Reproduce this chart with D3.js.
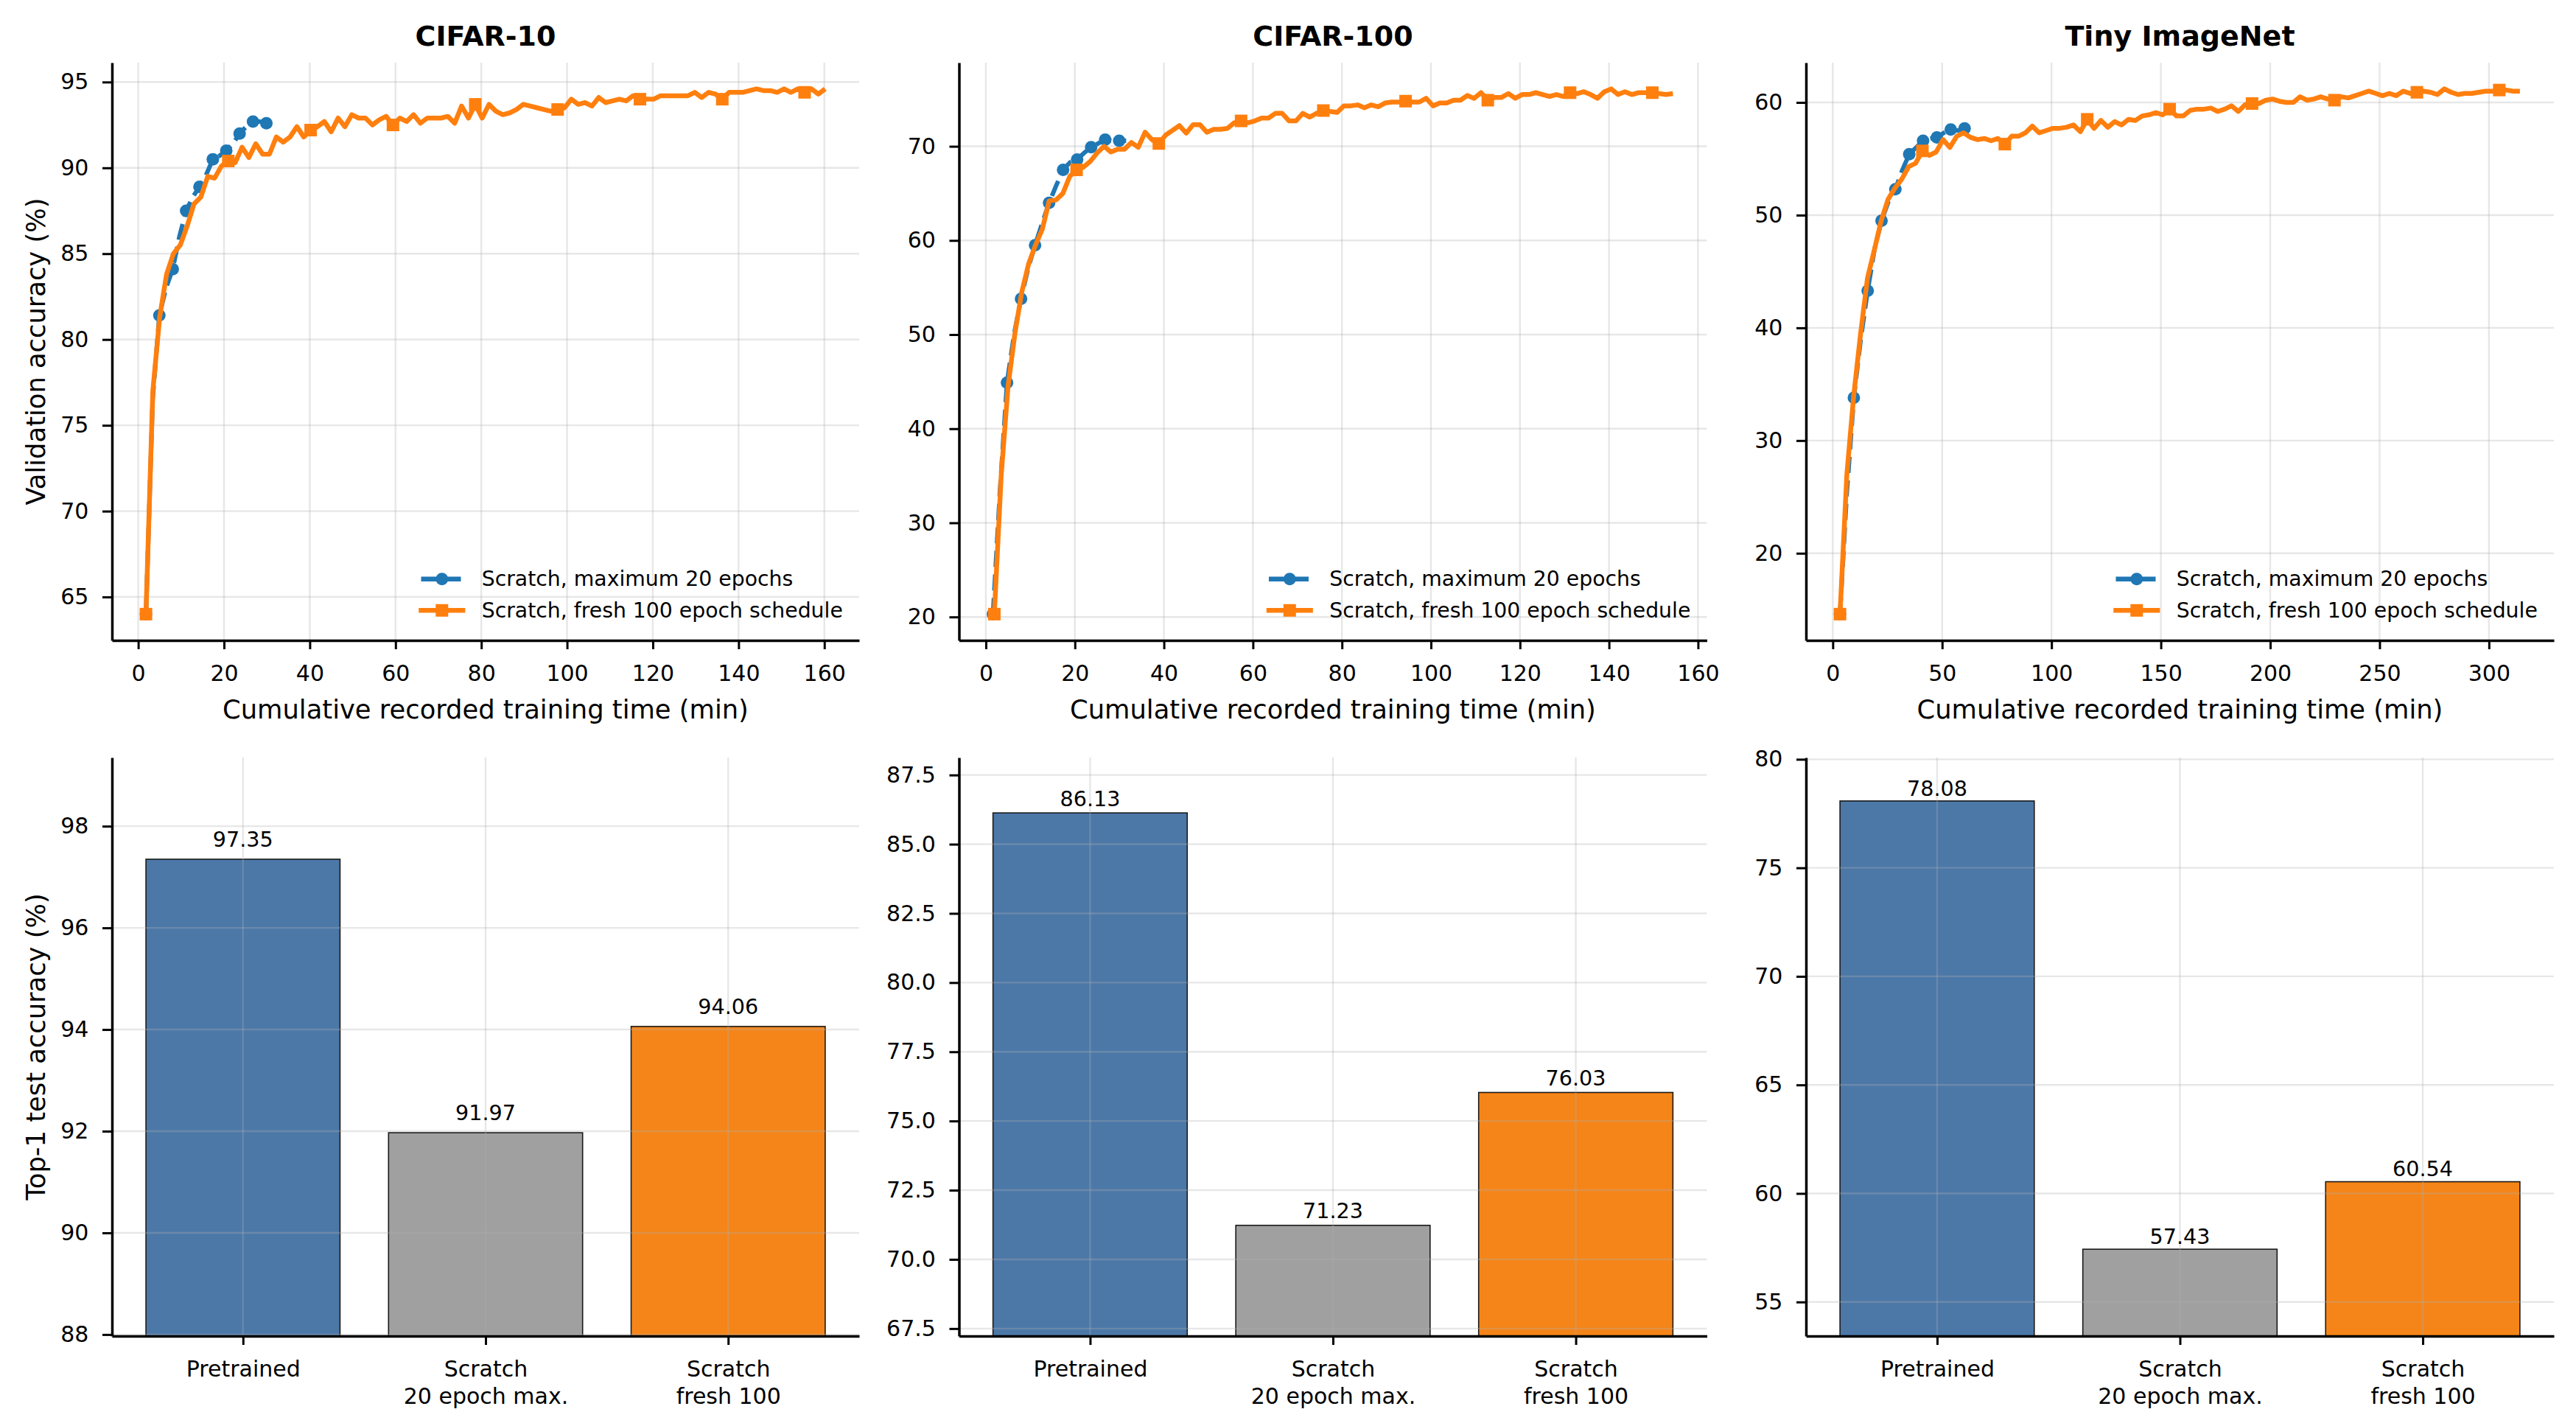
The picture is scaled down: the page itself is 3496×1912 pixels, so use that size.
<!DOCTYPE html>
<html>
<head>
<meta charset="utf-8">
<script src="https://cdn.jsdelivr.net/npm/d3@7"></script>
<style>
  body { margin: 0; background: #fff; }
  svg { display: block; font-family: "DejaVu Sans", sans-serif; }
</style>
</head>
<body>
<svg id="chart" width="3496" height="1912"></svg>
<script>
// values
const datasets = ["CIFAR-10", "CIFAR-100", "Tiny ImageNet"];
const seriesNames = ["Scratch, maximum 20 epochs", "Scratch, fresh 100 epoch schedule"];
const barCategories = ["Pretrained", "Scratch\n20 epoch max.", "Scratch\nfresh 100"];

// validation accuracy (%) per epoch
const c10Scratch20 = [64.0, 76.5, 81.4, 83.0, 84.1, 86.0, 87.5, 88.3, 88.9, 89.6,
  90.5, 90.7, 91.0, 91.4, 92.0, 92.4, 92.7, 92.7, 92.6, 92.6];
const c10Fresh100 = [64.0, 77.0, 81.3, 83.8, 85.0, 85.5, 86.6, 87.9, 88.3, 89.5,
  89.4, 90.1, 90.4, 90.3, 91.2, 90.6, 91.4, 90.8, 90.8, 91.8,
  91.5, 91.8, 92.4, 91.8, 92.2, 92.4, 92.7, 92.1, 92.9, 92.4,
  93.1, 92.9, 92.9, 92.5, 92.8, 93.0, 92.5, 92.9, 92.7, 93.1,
  92.6, 92.9, 92.9, 92.9, 93.0, 92.6, 93.6, 92.9, 93.7, 92.9,
  93.7, 93.3, 93.1, 93.2, 93.4, 93.7, 93.6, 93.5, 93.4, 93.3,
  93.4, 93.5, 94.0, 93.7, 93.8, 93.6, 94.1, 93.8, 93.9, 94.0,
  93.9, 94.2, 94.0, 94.0, 94.0, 94.2, 94.2, 94.2, 94.2, 94.2,
  94.4, 94.1, 94.4, 94.3, 94.0, 94.4, 94.4, 94.4, 94.5, 94.6,
  94.5, 94.5, 94.4, 94.6, 94.4, 94.6, 94.4, 94.6, 94.3, 94.6];

const c100Scratch20 = [20.3, 33.5, 44.9, 50.0, 53.8, 57.0, 59.5, 61.8, 64.0, 65.8,
  67.5, 68.3, 68.6, 69.3, 69.9, 70.3, 70.7, 70.6, 70.6, 70.6];
const c100Fresh100 = [20.3, 35.0, 44.5, 50.1, 54.5, 57.5, 59.5, 61.2, 64.2, 64.3,
  65.0, 66.8, 67.5, 67.8, 68.4, 69.3, 70.0, 69.4, 69.7, 69.7,
  70.4, 69.9, 71.5, 70.7, 70.3, 71.2, 71.7, 72.2, 71.4, 72.3,
  72.3, 71.5, 71.8, 71.8, 71.9, 72.5, 72.7, 72.5, 72.7, 73.0,
  73.0, 73.5, 73.5, 72.7, 72.7, 73.5, 73.1, 73.5, 73.8, 73.7,
  73.6, 74.3, 74.3, 74.4, 74.1, 74.4, 74.2, 74.6, 74.7, 74.7,
  74.8, 74.7, 74.7, 75.1, 74.3, 74.6, 74.6, 74.9, 74.9, 75.4,
  75.1, 75.7, 74.9, 75.2, 75.2, 75.6, 75.1, 75.5, 75.5, 75.7,
  75.5, 75.3, 75.5, 75.3, 75.7, 75.6, 75.8, 75.5, 75.1, 75.8,
  76.1, 75.5, 75.8, 75.5, 75.7, 75.7, 75.7, 75.6, 75.5, 75.6];

const tinyScratch20 = [14.6, 25.5, 33.8, 39.0, 43.3, 47.0, 49.5, 51.2, 52.3, 54.0,
  55.4, 56.0, 56.6, 56.8, 56.9, 57.3, 57.6, 57.5, 57.7, 57.7];
const tinyFresh100 = [14.6, 27.0, 34.0, 39.5, 44.4, 46.9, 49.5, 51.4, 52.4, 53.2,
  54.3, 54.6, 55.7, 55.3, 55.6, 56.7, 56.0, 57.0, 57.3, 56.9,
  56.7, 56.8, 56.6, 56.8, 56.3, 57.0, 57.0, 57.3, 57.9, 57.3,
  57.5, 57.7, 57.7, 57.8, 58.0, 57.4, 58.5, 57.7, 58.4, 57.8,
  58.3, 58.0, 58.5, 58.4, 58.8, 58.9, 59.1, 58.9, 59.4, 58.8,
  58.8, 59.3, 59.4, 59.4, 59.5, 59.2, 59.4, 59.7, 59.2, 59.8,
  59.9, 59.9, 60.2, 60.3, 60.1, 60.0, 60.0, 60.5, 60.2, 60.3,
  60.5, 60.3, 60.2, 60.5, 60.4, 60.6, 60.8, 61.0, 60.8, 60.6,
  60.8, 60.6, 61.0, 60.8, 60.9, 61.0, 60.9, 60.7, 61.2, 60.9,
  60.7, 60.8, 60.8, 60.9, 61.0, 61.0, 61.1, 61.1, 61.0, 61.0];

// recorded time: [end of first epoch, minutes per epoch] for [scratch20, fresh100]
const c10Start = [1.8, 1.8], c10Step = [1.56, 1.6];
const c100Start = [1.6, 1.9], c100Step = [1.575, 1.54];
const tinyStart = [3.3, 3.3], tinyStep = [3.165, 3.14];

// top-1 test accuracy (%)
const c10Test = [97.35, 91.97, 94.06];
const c100Test = [86.13, 71.23, 76.03];
const tinyTest = [78.08, 57.43, 60.54];

// tick labels
const c10XTicks = [0, 20, 40, 60, 80, 100, 120, 140, 160];
const c10YTicks = [65, 70, 75, 80, 85, 90, 95];
const c100XTicks = [0, 20, 40, 60, 80, 100, 120, 140, 160];
const c100YTicks = [20, 30, 40, 50, 60, 70];
const tinyXTicks = [0, 50, 100, 150, 200, 250, 300];
const tinyYTicks = [20, 30, 40, 50, 60];
const c10BarTicks = [88, 90, 92, 94, 96, 98];
const c100BarTicks = [67.5, 70, 72.5, 75, 77.5, 80, 82.5, 85, 87.5];
const tinyBarTicks = [55, 60, 65, 70, 75, 80];

const lineColors = ["#1f77b4", "#ff7f0e"];
const barColors = ["#4c78a8", "#a0a0a0", "#f58518"];

const panelX = [[152, 1166], [1301.5, 2316.5], [2451, 3466]];
var lineTop = 85, lineBottom = 869;
var barTop = 1028, barBottom = 1813;

const lineRuns = [
  [c10Scratch20, c10Fresh100, c10Start, c10Step, c10XTicks, c10YTicks],
  [c100Scratch20, c100Fresh100, c100Start, c100Step, c100XTicks, c100YTicks],
  [tinyScratch20, tinyFresh100, tinyStart, tinyStep, tinyXTicks, tinyYTicks]
];
const barRuns = [
  [c10Test, c10BarTicks, d3.format("d")],
  [c100Test, c100BarTicks, d3.format(".1f")],
  [tinyTest, tinyBarTicks, d3.format("d")]
];

const svg = d3.select("#chart");

function styleAxis(g) {
  g.attr("font-family", null).attr("font-size", null);
  g.select(".domain").attr("stroke", "#000").attr("stroke-width", 3.5);
  g.selectAll(".tick line").attr("stroke", "#000").attr("stroke-width", 3);
  g.selectAll(".tick text").attr("fill", "#000").style("font-size", "30px");
}

function drawGrid(g, x, y, xt, yt, left, right, top, bottom) {
  g.selectAll("line.vg").data(xt).join("line").attr("class", "vg")
    .attr("x1", d => x(d)).attr("x2", d => x(d)).attr("y1", top).attr("y2", bottom);
  g.selectAll("line.hg").data(yt).join("line").attr("class", "hg")
    .attr("x1", left).attr("x2", right).attr("y1", d => y(d)).attr("y2", d => y(d));
  g.selectAll("line").attr("stroke", "#b0b0b0").attr("stroke-opacity", 0.3).attr("stroke-width", 2.4);
}

function padded(lo, hi) {
  const r = hi - lo;
  return [lo - 0.05 * r, hi + 0.05 * r];
}

function drawLegend(g, right, bottom) {
  const rows = [bottom - 83.3, bottom - 40.7];
  rows.forEach((ry, k) => {
    g.append("line")
      .attr("x1", right - 594.5).attr("x2", right - 537.9).attr("y1", ry).attr("y2", ry)
      .attr("stroke", lineColors[k]).attr("stroke-width", 6.5)
      .attr("stroke-linecap", k == 0 ? "butt" : "square")
      .attr("stroke-dasharray", k == 0 ? "22,10" : null);
    if (k == 0) {
      g.append("circle").attr("cx", right - 566.2).attr("cy", ry).attr("r", 8.5).attr("fill", lineColors[0]);
    } else {
      g.append("rect").attr("x", right - 566.2 - 8.5).attr("y", ry - 8.5)
        .attr("width", 17).attr("height", 17).attr("fill", lineColors[1]);
    }
    g.append("text").attr("x", right - 512.3).attr("y", ry + 9.7)
      .style("font-size", "28.3px").attr("fill", "#000").text(seriesNames[k]);
  });
}

datasets.forEach((name, p) => {
  const [left, right] = panelX[p];
  const [s20, f100, start, step, xTicks, yTicks] = lineRuns[p];

  const pts20 = s20.map((v, i) => ({t: start[0] + i * step[0], v: v}));
  const pts100 = f100.map((v, i) => ({t: start[1] + i * step[1], v: v}));
  const all = pts20.concat(pts100);

  const x = d3.scaleLinear().domain(padded(d3.min(all, d => d.t), d3.max(all, d => d.t))).range([left, right]);
  const y = d3.scaleLinear().domain(padded(d3.min(all, d => d.v), d3.max(all, d => d.v))).range([lineBottom, lineTop]);

  const g = svg.append("g");
  drawGrid(g.append("g"), x, y, xTicks, yTicks, left, right, lineTop, lineBottom);

  const line = d3.line().x(d => x(d.t)).y(d => y(d.v));

  g.append("path").datum(pts20).attr("d", line).attr("fill", "none")
    .attr("stroke", lineColors[0]).attr("stroke-width", 6).attr("stroke-dasharray", "22,10");
  g.selectAll("circle.m20").data(pts20.filter((d, i) => i % 2 == 0)).join("circle")
    .attr("class", "m20").attr("cx", d => x(d.t)).attr("cy", d => y(d.v)).attr("r", 8.5)
    .attr("fill", lineColors[0]);

  g.append("path").datum(pts100).attr("d", line).attr("fill", "none")
    .attr("stroke", lineColors[1]).attr("stroke-width", 6.5).attr("stroke-linejoin", "round");
  g.selectAll("rect.m100").data(pts100.filter((d, i) => i % 12 == 0)).join("rect")
    .attr("class", "m100").attr("x", d => x(d.t) - 8.5).attr("y", d => y(d.v) - 8.5)
    .attr("width", 17).attr("height", 17).attr("fill", lineColors[1]);

  g.append("g").attr("transform", "translate(0," + lineBottom + ")")
    .call(d3.axisBottom(x).tickValues(xTicks).tickFormat(d3.format("d")).tickSize(12).tickSizeOuter(0).tickPadding(21.7))
    .call(styleAxis);
  g.append("g").attr("transform", "translate(" + left + ",0)")
    .call(d3.axisLeft(y).tickValues(yTicks).tickFormat(d3.format("d")).tickSize(13).tickSizeOuter(0).tickPadding(18.6))
    .call(styleAxis);

  drawLegend(g.append("g"), right, lineBottom);

  g.append("text").attr("x", (left + right) / 2).attr("y", 61.5).attr("text-anchor", "middle")
    .style("font-size", "38px").style("font-weight", "bold").text(name);
  g.append("text").attr("x", (left + right) / 2).attr("y", lineBottom + 106).attr("text-anchor", "middle")
    .style("font-size", "35.3px").text("Cumulative recorded training time (min)");

  // bar panel
  const [vals, barTicks, fmt] = barRuns[p];
  const bx = d3.scaleLinear().domain([-0.54, 2.54]).range([left, right]);
  const by = d3.scaleLinear().domain([d3.min(vals) - 4, d3.max(vals) + 2]).range([barBottom, barTop]);

  const b = svg.append("g");
  b.selectAll("rect.bar").data(vals).join("rect").attr("class", "bar")
    .attr("x", (d, i) => bx(i - 0.4)).attr("width", bx(0.4) - bx(-0.4))
    .attr("y", d => by(d)).attr("height", d => barBottom - by(d))
    .attr("fill", (d, i) => barColors[i]).attr("stroke", "#1a1a1a").attr("stroke-width", 1.6);

  drawGrid(b.append("g"), bx, by, [0, 1, 2], barTicks, left, right, barTop, barBottom);

  b.selectAll("text.val").data(vals).join("text").attr("class", "val")
    .attr("x", (d, i) => bx(i)).attr("y", d => by(d + 0.25)).attr("text-anchor", "middle")
    .style("font-size", "28.6px").text(d => d.toFixed(2));

  const xa = b.append("g").attr("transform", "translate(0," + barBottom + ")")
    .call(d3.axisBottom(bx).tickValues([0, 1, 2]).tickSize(12).tickSizeOuter(0).tickPadding(21.7))
    .call(styleAxis);
  xa.selectAll(".tick text").each(function(d) {
    const t = d3.select(this).text(null);
    barCategories[d].split("\n").forEach((part, j) => {
      t.append("tspan").attr("x", 0).attr("dy", j ? "1.217em" : "0.71em").text(part);
    });
  }).attr("dy", null);

  b.append("g").attr("transform", "translate(" + left + ",0)")
    .call(d3.axisLeft(by).tickValues(barTicks).tickFormat(fmt).tickSize(13).tickSizeOuter(0).tickPadding(18.6))
    .call(styleAxis);
});

svg.append("text").attr("transform", "translate(61," + (lineTop + lineBottom) / 2 + ") rotate(-90)")
  .attr("text-anchor", "middle").style("font-size", "35.3px").text("Validation accuracy (%)");
svg.append("text").attr("transform", "translate(61," + (barTop + barBottom) / 2 + ") rotate(-90)")
  .attr("text-anchor", "middle").style("font-size", "35.3px").text("Top-1 test accuracy (%)");
</script>
</body>
</html>
